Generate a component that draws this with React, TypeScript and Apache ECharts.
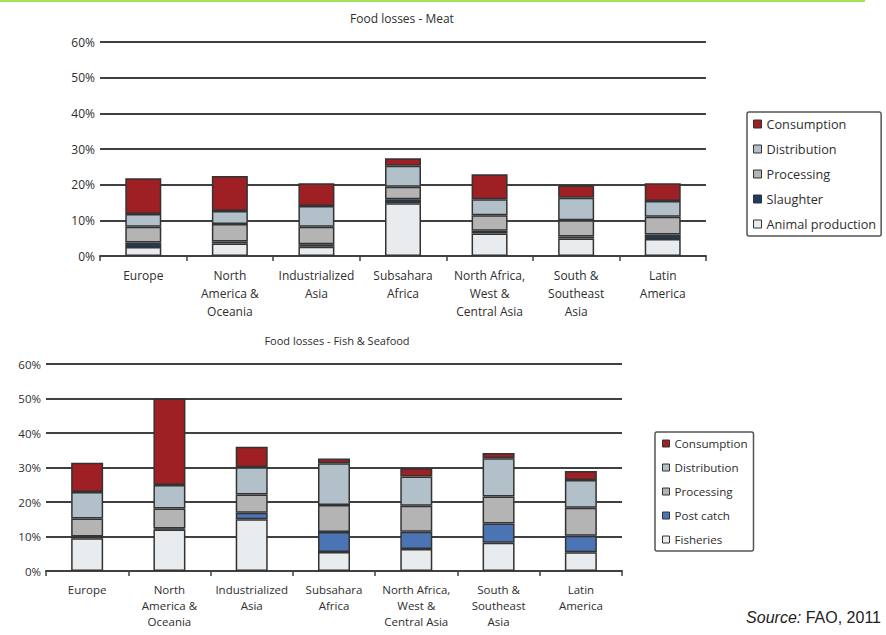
import React, { useEffect, useRef } from "react";
import * as echarts from "echarts";

// Regions shared by both panels
const regions = [
  "Europe",
  "North\nAmerica &\nOceania",
  "Industrialized\nAsia",
  "Subsahara\nAfrica",
  "North Africa,\nWest &\nCentral Asia",
  "South &\nSoutheast\nAsia",
  "Latin\nAmerica",
];

// Meat losses by stage (% of production)
const meatAnimalProduction = [2.5, 3.5, 2.6, 14.8, 6.3, 4.9, 4.8];
const meatSlaughter = [1.3, 0.6, 0.7, 1.1, 0.8, 0.6, 1.2];
const meatProcessing = [4.4, 4.9, 4.9, 3.5, 4.3, 4.5, 5.0];
const meatDistribution = [3.6, 3.6, 5.8, 5.9, 4.5, 6.3, 4.4];
const meatConsumption = [10.0, 9.8, 6.4, 2.1, 7.0, 3.5, 5.0];

// Fish & seafood losses by stage (% of production)
const fishFisheries = [9.5, 12.0, 15.0, 5.5, 6.4, 8.2, 5.4];
const fishPostCatch = [0.5, 0.3, 1.9, 5.8, 5.0, 5.6, 4.8];
const fishProcessing = [5.2, 5.8, 5.3, 7.8, 7.5, 7.8, 8.1];
const fishDistribution = [7.7, 6.8, 7.9, 12.1, 8.5, 11.1, 8.1];
const fishConsumption = [8.5, 25.1, 5.9, 1.4, 2.4, 1.5, 2.6];

const yMin = 0;
const yMax = 60;
const yStep = 10;

const COLORS = {
  consumption: "#9e1f24",
  distribution: "#b2c0ca",
  processing: "#b4b4b4",
  slaughter: "#1f3c66",
  postCatch: "#4a74b4",
  base: "#e8ecef",
};

const FONT = "'Open Sans', 'Noto Sans', sans-serif";
const TEXT = "#2e2e2e";
const LINE = "#404040";

function makeAxes(gridIndex: number, labelSize: number, lineHeight: number) {
  const xAxis = {
    type: "category",
    gridIndex,
    data: regions,
    axisLine: { lineStyle: { color: LINE, width: 2 } },
    axisTick: { show: true, alignWithLabel: false, length: 5, lineStyle: { color: LINE, width: 1.5 } },
    axisLabel: {
      interval: 0,
      margin: 10,
      color: TEXT,
      fontFamily: FONT,
      fontSize: labelSize,
      lineHeight,
    },
  };
  const yAxis = {
    type: "value",
    gridIndex,
    min: yMin,
    max: yMax,
    interval: yStep,
    axisLine: { show: false },
    axisTick: { show: false },
    axisLabel: {
      formatter: "{value}%",
      margin: 5,
      color: TEXT,
      fontFamily: FONT,
      fontSize: labelSize,
    },
    splitLine: { lineStyle: { color: LINE, width: 2 } },
  };
  return { xAxis, yAxis };
}

function bar(name: string, data: number[], color: string, idx: number, stack: string, width: number) {
  return {
    name,
    type: "bar",
    stack,
    xAxisIndex: idx,
    yAxisIndex: idx,
    barWidth: width,
    data,
    itemStyle: { color, borderColor: "#333", borderWidth: 1.5 },
  };
}

export default function App() {
  const ref = useRef<HTMLDivElement>(null);

  useEffect(() => {
    if (!ref.current) return;
    const chart = echarts.init(ref.current, null, { renderer: "svg" });

    const top = makeAxes(0, 12, 18);
    const bottom = makeAxes(1, 11.5, 16);

    chart.setOption({
      animation: false,
      grid: [
        { left: 100, right: 180, top: 42, height: 214 },
        { left: 46, right: 264, top: 364, height: 207 },
      ],
      xAxis: [top.xAxis, bottom.xAxis],
      yAxis: [top.yAxis, bottom.yAxis],
      legend: [
        {
          orient: "vertical",
          left: 747,
          top: 112,
          padding: [5, 5, 5, 6],
          itemGap: 11,
          itemWidth: 8,
          itemHeight: 8,
          icon: "rect",
          borderColor: "#555",
          borderWidth: 1.5,
          borderRadius: 2,
          itemStyle: { borderColor: "#333", borderWidth: 1 },
          textStyle: { color: TEXT, fontFamily: FONT, fontSize: 12.7, lineHeight: 14 },
          data: ["Consumption", "Distribution", "Processing", "Slaughter", "Animal production"],
        },
        {
          orient: "vertical",
          left: 655,
          top: 432,
          padding: [5, 6, 5, 7],
          itemGap: 11,
          itemWidth: 7,
          itemHeight: 7,
          icon: "rect",
          borderColor: "#555",
          borderWidth: 1.5,
          borderRadius: 2,
          itemStyle: { borderColor: "#333", borderWidth: 1 },
          textStyle: { color: TEXT, fontFamily: FONT, fontSize: 11.6, lineHeight: 13 },
          data: ["Consumption", "Distribution", "Processing", "Post catch", "Fisheries"],
        },
      ],
      series: [
        bar("Animal production", meatAnimalProduction, COLORS.base, 0, "meat", 36),
        bar("Slaughter", meatSlaughter, COLORS.slaughter, 0, "meat", 36),
        bar("Processing", meatProcessing, COLORS.processing, 0, "meat", 36),
        bar("Distribution", meatDistribution, COLORS.distribution, 0, "meat", 36),
        bar("Consumption", meatConsumption, COLORS.consumption, 0, "meat", 36),
        bar("Fisheries", fishFisheries, COLORS.base, 1, "fish", 32),
        bar("Post catch", fishPostCatch, COLORS.postCatch, 1, "fish", 32),
        bar("Processing", fishProcessing, COLORS.processing, 1, "fish", 32),
        bar("Distribution", fishDistribution, COLORS.distribution, 1, "fish", 32),
        bar("Consumption", fishConsumption, COLORS.consumption, 1, "fish", 32),
      ],
      graphic: [
        {
          type: "line",
          shape: { x1: 0, y1: 1, x2: 865, y2: 1 },
          style: { stroke: "#a3e35c", lineWidth: 2 },
        },
        {
          type: "text",
          x: 402,
          y: 18,
          style: {
            text: "Food losses - Meat",
            fill: TEXT,
            font: `12px ${FONT}`,
            textAlign: "center",
            textVerticalAlign: "middle",
          },
        },
        {
          type: "text",
          x: 337,
          y: 340,
          style: {
            text: "Food losses - Fish & Seafood",
            fill: TEXT,
            font: `11px ${FONT}`,
            textAlign: "center",
            textVerticalAlign: "middle",
          },
        },
        {
          type: "text",
          x: 881,
          y: 617,
          style: {
            text: "{i|Source:} FAO, 2011",
            rich: {
              i: { fontStyle: "italic", fontFamily: "'Liberation Sans', Arial, sans-serif", fontSize: 16, fill: "#222" },
            },
            fontFamily: "'Liberation Sans', Arial, sans-serif",
            fontSize: 16,
            fill: "#222",
            textAlign: "right",
            textVerticalAlign: "middle",
          },
        },
      ],
    });

    return () => chart.dispose();
  }, []);

  return (
    <div
      ref={ref}
      style={{ position: "absolute", left: 0, top: 0, width: 886, height: 635, background: "#fff" }}
    />
  );
}
